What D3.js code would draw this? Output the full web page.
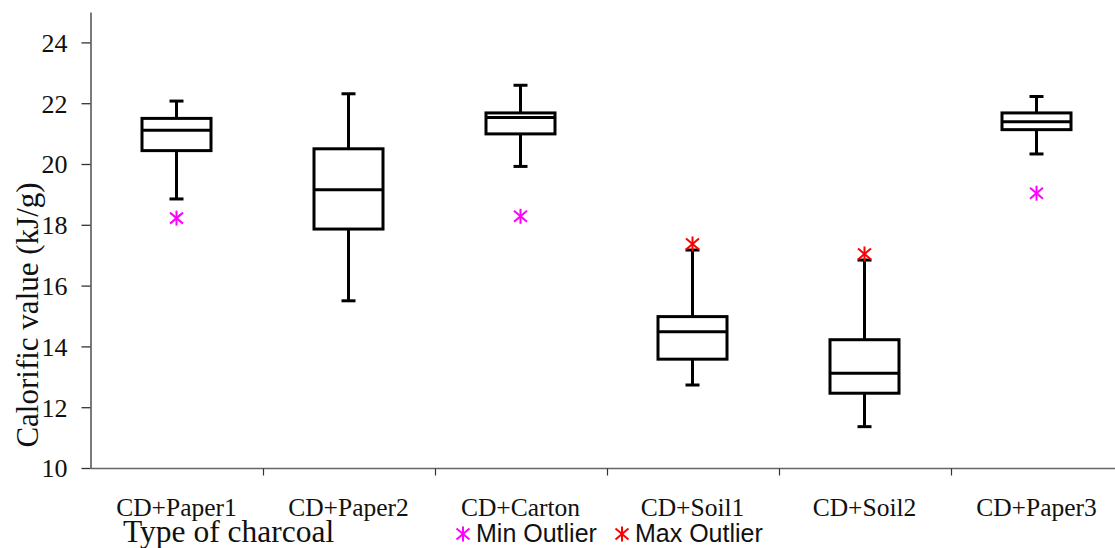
<!DOCTYPE html>
<html>
<head>
<meta charset="utf-8">
<script src="https://cdn.jsdelivr.net/npm/d3@7"></script>
<style>
  body { margin: 0; background: #fff; }
  svg { display: block; }
</style>
</head>
<body>
<div id="chart"></div>
<script>
const categories = ["CD+Paper1", "CD+Paper2", "CD+Carton", "CD+Soil1", "CD+Soil2", "CD+Paper3"];
const whiskerLow  = [18.85, 15.50, 19.92, 12.73, 11.36, 20.33];
const q1          = [20.44, 17.86, 20.99, 13.58, 12.46, 21.13];
const medians     = [21.11, 19.15, 21.53, 14.48, 13.12, 21.39];
const q3          = [21.50, 20.50, 21.68, 14.98, 14.22, 21.68];
const whiskerHigh = [22.07, 22.31, 22.59, 17.17, 16.84, 22.22];
const minOutliers = [18.22, null, 18.28, null, null, 19.04];
const maxOutliers = [null, null, null, 17.37, 17.04, null];
const yTicks = [10, 12, 14, 16, 18, 20, 22, 24];

const width = 1115, height = 548;
const svg = d3.select("#chart").append("svg")
    .attr("width", width)
    .attr("height", height);

const x = d3.scaleBand().domain(categories).range([90.5, 90.5 + 172 * 6]).padding(0);
const y = d3.scaleLinear().domain([10, 25]).range([468, 12]);

const serif = "'Liberation Serif', 'Times New Roman', serif";
const sans = "'Liberation Sans', Arial, sans-serif";

// Y axis
const yAxis = svg.append("g")
    .attr("transform", "translate(90.5,0)")
    .call(d3.axisLeft(y).tickValues(yTicks).tickSize(9).tickPadding(14).tickSizeOuter(0));
yAxis.attr("font-family", null).attr("font-size", null);
yAxis.select(".domain").attr("stroke", "#333").attr("stroke-width", 1.3);
yAxis.selectAll(".tick line").attr("stroke", "#333").attr("stroke-width", 1.3);
yAxis.selectAll("text")
    .style("font-family", serif)
    .style("font-size", "26px")
    .attr("fill", "#111")
    .attr("dy", "0.34em");

// X axis: ticks at band boundaries
const xAxisG = svg.append("g").attr("transform", "translate(0,468.5)");
xAxisG.append("line")
    .attr("x1", 90.5).attr("x2", width)
    .attr("stroke", "#666").attr("stroke-width", 1.5);
xAxisG.selectAll(".btick")
    .data(categories.slice(1))
    .enter().append("line")
    .attr("x1", d => Math.round(x(d)) + 0.5)
    .attr("x2", d => Math.round(x(d)) + 0.5)
    .attr("y1", 0).attr("y2", 7)
    .attr("stroke", "#333").attr("stroke-width", 1.2);
xAxisG.selectAll(".clabel")
    .data(categories)
    .enter().append("text")
    .attr("x", d => x(d) + x.bandwidth() / 2)
    .attr("y", 47)
    .attr("text-anchor", "middle")
    .style("font-family", serif)
    .style("font-size", "25.5px")
    .attr("fill", "#111")
    .text(d => d);

// Axis titles
svg.append("text")
    .attr("transform", "translate(38,315) rotate(-90)")
    .attr("text-anchor", "middle")
    .style("font-family", serif)
    .style("font-size", "31px")
    .attr("fill", "#111")
    .text("Calorific value (kJ/g)");

svg.append("text")
    .attr("x", 123).attr("y", 541.5)
    .style("font-family", serif)
    .style("font-size", "31.5px")
    .attr("fill", "#111")
    .text("Type of charcoal");

// Box plots
const boxW = 69, capW = 12;
const boxes = svg.append("g")
    .selectAll("g")
    .data(categories)
    .enter().append("g");

boxes.each(function (c, i) {
    const g = d3.select(this);
    const cx = x(c) + x.bandwidth() / 2;
    const line = (x1, y1, x2, y2) => g.append("line")
        .attr("x1", x1).attr("y1", y1).attr("x2", x2).attr("y2", y2)
        .attr("stroke", "#000").attr("stroke-width", 3);
    // whiskers
    line(cx, y(whiskerHigh[i]), cx, y(q3[i]));
    line(cx, y(q1[i]), cx, y(whiskerLow[i]));
    line(cx - capW / 2 - 1, y(whiskerHigh[i]), cx + capW / 2 + 1, y(whiskerHigh[i]));
    line(cx - capW / 2 - 1, y(whiskerLow[i]), cx + capW / 2 + 1, y(whiskerLow[i]));
    // box
    g.append("rect")
        .attr("x", cx - boxW / 2)
        .attr("y", y(q3[i]))
        .attr("width", boxW)
        .attr("height", y(q1[i]) - y(q3[i]))
        .attr("fill", "none")
        .attr("stroke", "#000")
        .attr("stroke-width", 3);
    line(cx - boxW / 2, y(medians[i]), cx + boxW / 2, y(medians[i]));
});

// asterisk marker: X with a vertical bar
function asterisk(g, cx, cy, color) {
    const a = [[0, -7.5, 0, 7.5], [-6.5, -5.5, 6.5, 5.5], [-6.5, 5.5, 6.5, -5.5]];
    a.forEach(p => g.append("line")
        .attr("x1", cx + p[0]).attr("y1", cy + p[1])
        .attr("x2", cx + p[2]).attr("y2", cy + p[3])
        .attr("stroke", color).attr("stroke-width", 2));
}

const marks = svg.append("g");
categories.forEach((c, i) => {
    const cx = x(c) + x.bandwidth() / 2;
    if (minOutliers[i] != null) asterisk(marks, cx, y(minOutliers[i]), "#FF00FF");
    if (maxOutliers[i] != null) asterisk(marks, cx, y(maxOutliers[i]), "#FF0000");
});

// Legend
const legend = svg.append("g");
const legendItems = [
    { label: "Min Outlier", color: "#FF00FF", x: 463 },
    { label: "Max Outlier", color: "#FF0000", x: 622 }
];
legendItems.forEach(d => {
    asterisk(legend, d.x, 534, d.color);
    legend.append("text")
        .attr("x", d.x + 13).attr("y", 542)
        .style("font-family", sans)
        .style("font-size", "25px")
        .attr("fill", "#111")
        .text(d.label);
});
</script>
</body>
</html>
